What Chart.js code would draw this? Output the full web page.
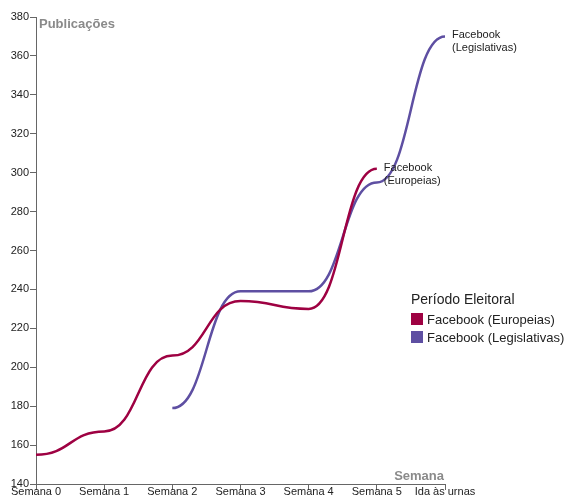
<!DOCTYPE html>
<html>
<head>
<meta charset="utf-8">
<script src="https://cdn.jsdelivr.net/npm/chart.js@4"></script>
<style>
  html, body { margin: 0; padding: 0; background: #fff; }
  #wrap { width: 566px; height: 497px; position: relative; }
</style>
</head>
<body>
<div id="wrap"><canvas id="chart"></canvas></div>
<script>
// Data
const weeks = ['Semana 0', 'Semana 1', 'Semana 2', 'Semana 3', 'Semana 4', 'Semana 5', 'Ida às urnas'];
const europeias = [155, 167, 206, 234, 230, 302, null];
const legislativas = [null, null, 179, 239, 239, 295, 370];
const seriesNames = ['Facebook (Europeias)', 'Facebook (Legislativas)'];
const seriesColors = ['#9e0142', '#5e4fa2'];
const endLabels = [['Facebook', '(Europeias)'], ['Facebook', '(Legislativas)']];
const yTitle = 'Publicações';
const xTitle = 'Semana';
const legendTitle = 'Período Eleitoral';

const FONT = '"Liberation Sans", Arial, sans-serif';

// horizontal tangents at every point (bump-style curve)
const bumpCurve = {
    id: 'bumpCurve',
    beforeDatasetDraw(chart, args) {
        const pts = args.meta.data;
        for (let i = 0; i < pts.length; i++) {
            const p = pts[i];
            if (p.skip) continue;
            const prev = pts[i - 1], next = pts[i + 1];
            if (prev && !prev.skip) { p.cp1x = (prev.x + p.x) / 2; } else { p.cp1x = p.x; }
            p.cp1y = p.y;
            if (next && !next.skip) { p.cp2x = (p.x + next.x) / 2; } else { p.cp2x = p.x; }
            p.cp2y = p.y;
        }
        args.meta.dataset._pointsUpdated = true;
    }
};

// titles, end labels, legend
const decorations = {
    id: 'decorations',
    afterDraw(chart) {
        const ctx = chart.ctx;
        const area = chart.chartArea;
        ctx.save();

        // axis titles
        ctx.fillStyle = '#8a8a8a';
        ctx.font = 'bold 13px ' + FONT;
        ctx.textBaseline = 'middle';
        ctx.textAlign = 'left';
        ctx.fillText(yTitle, area.left + 3, area.top + 7);
        ctx.textAlign = 'right';
        ctx.fillText(xTitle, area.right - 1, area.bottom - 8);

        // labels at the end of each line
        ctx.fillStyle = '#222';
        ctx.font = '11px ' + FONT;
        ctx.textAlign = 'left';
        chart.data.datasets.forEach((ds, di) => {
            const meta = chart.getDatasetMeta(di);
            let last = null;
            meta.data.forEach(p => { if (!p.skip) last = p; });
            if (!last) return;
            endLabels[di].forEach((line, li) => {
                ctx.fillText(line, last.x + 7, last.y - 1 + li * 13);
            });
        });

        // legend
        const lx = area.right - 34;
        let ly = 300;
        ctx.fillStyle = '#222';
        ctx.font = '14px ' + FONT;
        ctx.fillText(legendTitle, lx, ly);
        ctx.font = '13px ' + FONT;
        chart.data.datasets.forEach((ds, di) => {
            const cy = 319 + di * 18;
            ctx.fillStyle = ds.borderColor;
            ctx.fillRect(lx, cy - 6, 12, 12);
            ctx.fillStyle = '#222';
            ctx.fillText(ds.label, lx + 16, cy + 1);
        });
        ctx.restore();
    }
};

new Chart(document.getElementById('chart'), {
    type: 'line',
    data: {
        labels: weeks,
        datasets: [
            { label: seriesNames[0], data: europeias, borderColor: seriesColors[0], backgroundColor: seriesColors[0] },
            { label: seriesNames[1], data: legislativas, borderColor: seriesColors[1], backgroundColor: seriesColors[1] }
        ]
    },
    options: {
        responsive: true,
        maintainAspectRatio: false,
        animation: false,
        layout: { padding: { top: 17, right: 121, left: 0, bottom: 0 } },
        elements: {
            line: { borderWidth: 2.5, tension: 0.4, fill: false },
            point: { radius: 0, hoverRadius: 0 }
        },
        plugins: {
            legend: { display: false },
            tooltip: { enabled: false }
        },
        scales: {
            x: {
                offset: false,
                afterFit(s) { s.height = 13; },
                grid: { drawOnChartArea: false, drawTicks: true, tickLength: 6, color: '#666' },
                border: { display: true, color: '#666', width: 1 },
                ticks: { color: '#222', font: { size: 11, family: FONT }, padding: -5, maxRotation: 0, autoSkip: false }
            },
            y: {
                min: 140,
                max: 380,
                afterFit(s) { s.width = 36; },
                grid: { drawOnChartArea: false, drawTicks: true, tickLength: 6, color: '#666' },
                border: { display: true, color: '#666', width: 1 },
                ticks: { stepSize: 20, color: '#222', font: { size: 11, family: FONT }, padding: 1 }
            }
        }
    },
    plugins: [bumpCurve, decorations]
});
</script>
</body>
</html>
